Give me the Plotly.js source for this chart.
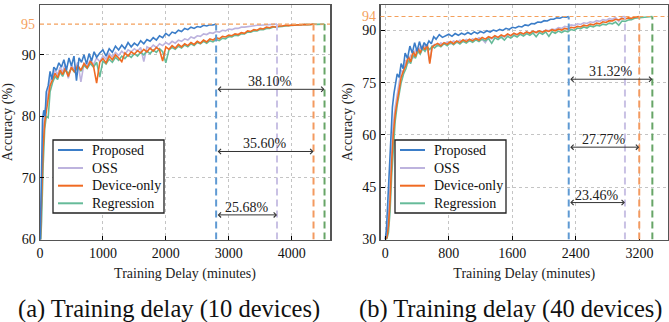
<!DOCTYPE html>
<html><head><meta charset="utf-8">
<script src="https://cdn.plot.ly/plotly-3.0.1.min.js"></script>
<style>html,body{margin:0;padding:0;background:#fff}#chart{width:669px;height:322px}</style>
</head><body><div id="chart"></div>
<script>
const seriesNames = ['Proposed', 'OSS', 'Device-only', 'Regression'];

// ---------- (a) 10 devices ----------
const d10ProposedX = [0,20,40,60,80, 100,130,160,190,220, 260,300,340,380,420, 460,500,540,580,620,
  660,700,740,780,820, 860,900,950,1000,1050, 1100,1150,1200,1250,1300, 1350,1400,1450,1500,1550,
  1600,1650,1700,1750,1800, 1850,1900,1950,2000,2050, 2100,2150,2200,2250,2300, 2350,2400,2450,2500,2550,
  2600,2650,2700,2750,2800];
const d10ProposedY = [58,70,79.5,81,80, 84,85,87.3,86,88, 87.5,88.7,88,89.2,87.5, 89.5,88.2,89.8,85.8,89.5,
  88.8,90,88.5,90.2,89, 90.5,89.6,90.3,90.8,89.8, 91,90.4,91.4,90.8,91.6, 91,92,91.3,91.9,91.5,
  92.3,91.8,92.5,92.2,92.8, 92.4,93.1,92.8,93.5,93.1, 93.7,93.5,94,93.8,94.3, 94.1,94.5,94.3,94.6,94.5,
  94.8,94.7,94.9,94.85,95];

const d10OssX = [0,25,50,75,100, 130,160,200,240,280, 320,360,400,450,500, 550,600,650,700,750,
  800,850,900,950,1000, 1050,1100,1150,1200,1250, 1300,1350,1400,1450,1500, 1550,1600,1650,1700,1750,
  1800,1850,1900,1950,2000, 2050,2100,2150,2200,2250, 2300,2350,2400,2450,2500, 2550,2600,2650,2700,2750,
  2800,2850,2900,2950,3000, 3050,3100,3150,3200,3250, 3300,3350,3400,3450,3500, 3550,3600,3650,3700,3768];
const d10OssY = [58,68,77,80.5,82, 84.5,85.8,86.5,87.5,86.8, 88,87.2,88.5,86.2,88.3, 87.6,88.8,85.6,88.6,88.2,
  89.2,88.4,89.5,88.9,89.8, 89.3,90.2,89.7,90.4,89.9, 90.6,90.1,90.8,90.5,91, 90.6,91.2,88.9,91.3,91,
  91.6,91.2,91.8,91.5,92, 91.7,92.2,91.9,92.4,92.2, 92.6,92.4,92.9,92.7,93.1, 93,93.4,93.3,93.6,93.5,
  93.8,93.7,94,93.9,94.2, 94.1,94.3,94.3,94.5,94.5, 94.6,94.6,94.7,94.8,94.8, 94.85,94.9,94.9,95,95];

const d10DeviceX = [0,25,50,75,100, 130,160,200,240,280, 320,360,400,450,500,
  550,600,650,700,750, 800,850,900,950,1000, 1050,1100,1150,1200,1250, 1300,1350,1400,1450,1500,
  1550,1600,1650,1700,1750, 1800,1850,1900,1950,2000, 2050,2100,2150,2200,2250, 2300,2350,2400,2450,2500,
  2550,2600,2650,2700,2750, 2800,2850,2900,2950,3000, 3050,3100,3150,3200,3250, 3300,3350,3400,3450,3500,
  3550,3600,3650,3700,3750, 3800,3850,3900,3950,4000, 4050,4100,4150,4200,4250, 4300,4348];
const d10DeviceY = [58,66,75,79,81, 83.5,85,86,87,86.3, 87.5,86.8,87.8,86.5,88,
  87.2,88.3,87.5,88.6,87.9, 89,88.2,85.4,88.8,89.4, 88.7,89.8,89.2,90,89.5, 88.9,90.3,89.8,90.5,90.1,
  90.7,90.3,90.9,90.5,91.1, 90.6,91.2,90.8,89,91.3, 90.9,91.5,91.1,91.7,91.3, 91.8,91.5,92,91.7,92.2,
  91.9,92.4,92.1,92.6,92.4, 92.8,92.6,93,92.9,93.2, 93.1,93.4,93.3,93.6,93.5, 93.9,93.8,94.1,94,94.3,
  94.2,94.5,94.4,94.6,94.5, 94.7,94.7,94.8,94.75,94.85, 94.8,94.9,94.85,94.95,94.9, 95,95];

const d10RegressionX = [0,25,50,75,100,130,160,200,240,280,320,360,400,450,
  500,550,600,650,700,750,800,850,900,950, 1000,1050,1100,1150,1200,1250,1300,1350,1400,1450,
  1500,1550,1600,1650,1700,1750,1800,1850,1900,1950, 2000,2050,2100,2150,2200,2250,2300,2350,2400,2450,
  2500,2550,2600,2650,2700,2750,2800,2850,2900,2950, 3000,3050,3100,3150,3200,3250,3300,3350,3400,3450,
  3500,3550,3600,3650,3700,3750,3800,3850,3900,3950, 4000,4050,4100,4150,4200,4250,4300,4350,4400,4450,
  4500,4523];
const d10RegressionY = [57,63,72,78,80,79.8,84,85.5,86.5,86,87.2,86.5,87.5,87,
  87.8,87.2,88,87.4,88.3,87.8,88.6,88,88.8,86.4, 89,88.5,89.3,88.8,89.6,89.1,89.8,89.4,90,89.6,
  90.2,89.8,90.4,90,90.6,90.2,90.8,90.4,91,90.5, 88.7,90.8,91.2,90.9,91.4,91.1,91.6,91.3,91.8,91.5,
  92,91.8,92.2,91.9,92.3,92.1,92.5,92.3,92.7,92.6, 93,92.9,93.2,93.1,93.4,93.4,93.7,93.7,93.9,93.9,
  94.1,94.1,94.3,94.3,94.5,94.5,94.6,94.6,94.7,94.7, 94.8,94.8,94.85,94.9,94.9,94.95,94.9,95,94.95,95,
  95,95];

const target10 = 95;
const reduction10 = ['38.10%', '35.60%', '25.68%']; // vs Regression, Device-only, OSS

// ---------- (b) 40 devices ----------
const d40ProposedX = [0,15,30,50,70, 90,110,130,150,175, 200,225,250,280,310, 340,370,400,430,460,
  490,520,550,580,610, 640,680,720,760,800, 840,880,920,960,1000, 1040,1080,1120,1160,1200,
  1240,1280,1320,1360,1400, 1440,1480,1520,1560,1600, 1640,1680,1720,1760,1800, 1840,1880,1920,1960,2000,
  2040,2080,2120,2160,2200, 2240,2280,2310];
const d40ProposedY = [30,33,40,50,62, 68,72,75,77.5,76.5, 80.5,79,83.5,82,85.5, 83.5,86.5,84,86.8,84.5,
  86.5,85.5,87,86.2,88.2, 87.5,88.8,88,88.5,88.9, 88.3,89.1,88.6,89.2,88.8, 89.4,88.9,89.6,89.1,89.7,
  89.3,89.9,89.5,90.1,89.8, 90.3,90,90.6,90.3,90.9, 90.7,91.2,91,91.6,91.4, 92,91.9,92.4,92.3,92.8,
  92.7,93.2,93.2,93.6,93.5, 93.9,93.8,94];

const d40OssX = [0,20,40,60,80,100,125,150,175,200, 230,260,290,320,350,380,410,440,470,500,
  530,560,590,620,
  660,700,740,780,820,860,900,940,980,1020, 1060,1100,1140,1180,1220,1260,1300,1340,1380,1420,
  1460,1500,1540,1580,1620,1660,1700,1740,1780,1820, 1860,1900,1940,1980,2020,2060,2100,2140,2180,2220,
  2260,2300,2340,2380,2420,2460,2500,2540,2580,2620, 2660,2700,2740,2780,2820,2860,2900,2940,2980,3018];
const d40OssY = [30,31,36,44,55,63,68,72,75,78.5, 78,81.5,80.5,83,82,84.5,83.5,85.2,84.5,85.8,
  84.8,80.8,85.5,86,
  85.5,86.4,86,86.7,86.2,87,86.5,87.2,86.8,87.4, 87,87.6,87.2,87.9,87.4,86.5,88,87.6,88.3,87.9,
  88.5,88.1,88.8,88.4,89,88.7,89.3,88.9,89.5,89.2, 89.7,89.4,89.9,89.6,90.1,89.9,90.4,90.2,90.8,90.6,
  91.2,91,91.6,91.4,91.9,91.7,92.2,92,92.5,92.3, 92.8,92.6,93.1,92.9,93.4,93.2,93.7,92.6,93.9,94];

const d40DeviceX = [0,20,40,60,80,100,125,150,175,200, 230,260,290,320,350,380,410,440,470,500,
  530,560,590,620,
  660,700,740,780,820,860,900,940,980,1020, 1060,1100,1140,1180,1220,1260,1300,1340,1380,1420,
  1460,1500,1540,1580,1620,1660,1700,1740,1780,1820, 1860,1900,1940,1980,2020,2060,2100,2140,2180,2220,
  2260,2300,2340,2380,2420,2460,2500,2540,2580,2620, 2660,2700,2740,2780,2820,2860,2900,2940,2980,3020,
  3060,3100,3140,3180,3198];
const d40DeviceY = [30,30.5,34,41,52,60,66,70,73.5,76.5, 78.5,80,82.5,81,84,82.5,85,83.5,85.5,84.5,
  86,80.5,85.2,85.8,
  86.3,85.6,86.5,86,86.8,86.2,87,86.5,87.3,86.8, 87.5,87,87.7,87.2,88,87.5,88.2,87.8,88.5,88,
  88.7,88.3,89,88.5,89.2,88.8,89.4,89,89.6,89.2, 89.8,89.4,89.9,89.5,90,89.7,90.2,89.9,90.4,90.1,
  90.6,90.4,90.9,90.7,91.2,91,91.5,91.3,91.8,91.6, 92.1,91.9,92.5,92.3,92.8,92.7,93.2,93,93.4,93.3,
  93.6,93.5,93.8,93.9,94];

const d40RegressionX = [0,20,40,60,80,100,125,150,175,200, 230,260,290,320,350,380,410,440,470,500,
  530,560,590,620,
  660,700,740,780,820,860,900,940,980,1020, 1060,1100,1140,1180,1220,1260,1300,1340,1380,1420,
  1460,1500,1540,1580,1620,1660,1700,1740,1780,1820, 1860,1900,1940,1980,2020,2060,2100,2140,2180,2220,
  2260,2300,2340,2380,2420,2460,2500,2540,2580,2620, 2660,2700,2740,2780,2820,2860,2900,2940,2980,3020,
  3060,3100,3140,3180,3220,3260,3300,3340,3363];
const d40RegressionY = [30,30.2,32,38,48,57,64,68.5,72,75, 77.5,79,81.5,80.5,83,82,84,83.2,84.8,84,
  85.2,84.5,85.5,85,
  85.8,85.3,86.2,85.6,86.5,85.9,86.7,86.1,86.9,86.4, 87.1,86.6,87.3,86.8,87.5,87,87.7,86.3,87.9,87.4,
  88.1,87.2,88.3,87.8,88.6,88.1,88.9,88.4,89.1,88.6, 89.3,88.2,89.4,88.9,89.6,88.3,89.7,89.2,89.8,89.4,
  89.9,89.6,90.3,90,90.7,90.5,91,90.7,91.3,91, 91.5,91.3,91.8,91.6,92.1,91.9,92.4,91.5,92.7,92.6,
  93,93.1,93.5,93.6,93.8,93.8,94,93.9,94];

const target40 = 94;
const reduction40 = ['31.32%', '27.77%', '23.46%']; // vs Regression, Device-only, OSS

const captions = ['(a) Training delay (10 devices)', '(b) Training delay (40 devices)'];
const xTicks10 = [0, 1000, 2000, 3000, 4000];
const yTicks10 = [60, 70, 80, 90];
const xTicks40 = [0, 800, 1600, 2400, 3200];
const yTicks40 = [30, 45, 60, 75, 90];

// ---------- styling ----------
const FONT = 'Liberation Serif, Times New Roman, serif';
const W = 669, H = 322;
const lineColors = ['#3b7dc8', '#bdb3de', '#f06a22', '#66bb99'];
const vlineColors = ['#5f9ad3', '#c9c1e4', '#f39a60', '#67a567'];
const targetColor = '#f4a05c';
const drawOrder = [1, 3, 2, 0];

const panels = [
  {xs: [d10ProposedX, d10OssX, d10DeviceX, d10RegressionX], ys: [d10ProposedY, d10OssY, d10DeviceY, d10RegressionY],
   target: target10, red: reduction10, xa: 'x', ya: 'y', ymin: 60, arrowY: [84.4, 74.3, 64.0],
   legendLeft: 53, axisLeft: 40, capX: 169},
  {xs: [d40ProposedX, d40OssX, d40DeviceX, d40RegressionX], ys: [d40ProposedY, d40OssY, d40DeviceY, d40RegressionY],
   target: target40, red: reduction40, xa: 'x2', ya: 'y2', ymin: 30, arrowY: [76.0, 56.5, 40.6],
   legendLeft: 395, axisLeft: 380.5, capX: 510}
];

const px = v => v / W, py = v => 1 - v / H;
const traces = [], shapes = [], annotations = [];
panels.forEach((p, pi) => {
  drawOrder.forEach(i => {
    traces.push({x: p.xs[i], y: p.ys[i], type: 'scatter', mode: 'lines', name: seriesNames[i],
      xaxis: p.xa, yaxis: p.ya, showlegend: false,
      line: {color: lineColors[i], width: 1.6}});
  });
  const ends = p.xs.map(a => a[a.length - 1]);
  ends.forEach((e, i) => {
    shapes.push({type: 'line', xref: p.xa, yref: p.ya, x0: e, x1: e, y0: p.ymin, y1: p.target,
      line: {color: vlineColors[i], width: 2, dash: '7px,4px'}});
  });
  shapes.push({type: 'line', xref: p.xa + ' domain', yref: p.ya, x0: 0, x1: 1, y0: p.target, y1: p.target,
    line: {color: targetColor, width: 1.2, dash: '4px,3px'}});
  [3, 2, 1].forEach((k, j) => {
    const yv = p.arrowY[j];
    annotations.push({xref: p.xa, yref: p.ya, axref: p.xa, ayref: p.ya, x: ends[k], y: yv, ax: ends[0], ay: yv,
      text: '', showarrow: true, arrowhead: 4, startarrowhead: 4, arrowside: 'end+start',
      arrowsize: 1, startarrowsize: 1, arrowwidth: 1, arrowcolor: '#333', standoff: 0, startstandoff: 0});
    annotations.push({xref: p.xa, yref: p.ya, x: (ends[k] + ends[0]) / 2, y: yv, yanchor: 'bottom', yshift: -2,
      text: p.red[j], showarrow: false, font: {family: FONT, size: 14, color: '#222'}});
  });
  annotations.push({xref: 'paper', yref: p.ya, x: px(p.axisLeft), y: p.target, xanchor: 'right',
    xshift: -3, text: String(p.target), showarrow: false, font: {family: FONT, size: 14, color: targetColor}});
  annotations.push({xref: 'paper', yref: 'paper', x: px(p.capX), y: py(309),
    xanchor: 'center', yanchor: 'middle', text: captions[pi], showarrow: false,
    font: {family: FONT, size: 24.5, color: '#111'}});

  // legend box (drawn by hand to match the compact spacing)
  const L = p.legendLeft;
  shapes.push({type: 'rect', xref: 'paper', yref: 'paper', x0: px(L), x1: px(L + 111), y0: py(140), y1: py(213),
    fillcolor: '#fff', line: {color: '#222', width: 1.3}});
  const rowY = [150, 168, 185.7, 203.3];
  [0, 1, 2, 3].forEach((i, r) => {
    shapes.push({type: 'line', xref: 'paper', yref: 'paper', x0: px(L + 5), x1: px(L + 30), y0: py(rowY[r]), y1: py(rowY[r]),
      line: {color: lineColors[i], width: 2}});
    annotations.push({xref: 'paper', yref: 'paper', x: px(L + 37), y: py(rowY[r]), xanchor: 'left', yanchor: 'middle',
      text: seriesNames[i], showarrow: false, font: {family: FONT, size: 14, color: '#111'}});
  });
});

function xAxis(domain, range, ticks, anchor) {
  return {domain, range, tickvals: ticks, anchor, showline: true, mirror: true, linecolor: '#555', linewidth: 1.5,
    ticks: 'inside', ticklen: 4, tickcolor: '#000', showgrid: true, gridcolor: '#c4c4c4', griddash: 'dot', gridwidth: 1,
    zeroline: false, tickfont: {family: FONT, size: 14, color: '#111'},
    title: {text: 'Training Delay (minutes)', font: {family: FONT, size: 14, color: '#222'}, standoff: 8}};
}
function yAxis(domain, range, ticks, anchor) {
  return {domain, range, tickvals: ticks, anchor, showline: true, mirror: true, linecolor: '#555', linewidth: 1.5,
    ticks: 'inside', ticklen: 4, tickcolor: '#000', showgrid: true, gridcolor: '#c4c4c4', griddash: 'dot', gridwidth: 1,
    zeroline: false, tickfont: {family: FONT, size: 14, color: '#111'},
    title: {text: 'Accuracy (%)', font: {family: FONT, size: 14, color: '#222'}, standoff: 6}};
}
const ydom = [1 - 239.5 / H, 1 - 5 / H];

const layout = {
  width: W, height: H, margin: {l: 0, r: 0, t: 0, b: 0}, paper_bgcolor: '#fff', plot_bgcolor: '#fff',
  showlegend: false,
  xaxis: xAxis([40 / W, 330 / W], [0, 4610], xTicks10, 'y'),
  yaxis: yAxis(ydom, [60, 98.1], yTicks10, 'x'),
  xaxis2: xAxis([380.5 / W, 668 / W], [-60, 3560], xTicks40, 'y2'),
  yaxis2: yAxis(ydom, [30, 97.3], yTicks40, 'x2'),
  shapes, annotations
};
Plotly.newPlot('chart', traces, layout, {displayModeBar: false, staticPlot: true});
</script></body></html>
